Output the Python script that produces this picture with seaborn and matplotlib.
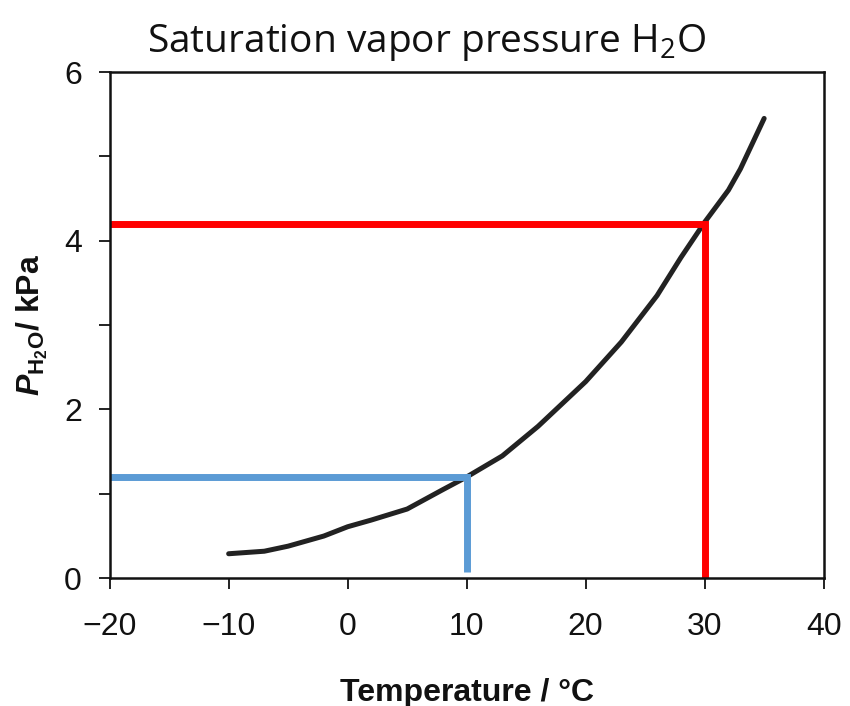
import matplotlib
matplotlib.use("Agg")
import matplotlib.pyplot as plt
import seaborn as sns
import pandas as pd
from matplotlib.ticker import MultipleLocator

# Data
temperature = [-10, -7, -5, -2, 0, 2, 5, 8, 10, 13, 16, 20, 23, 26, 28, 30, 32, 33, 35]
pressure = [0.29, 0.32, 0.38, 0.50, 0.61, 0.69, 0.82, 1.05, 1.20, 1.45, 1.80, 2.33,
            2.80, 3.35, 3.80, 4.22, 4.60, 4.85, 5.45]

red_x = [-20, 30, 30]
red_y = [4.2, 4.2, 0.0]
blue_x = [-20, 10, 10]
blue_y = [1.2, 1.2, 0.07]

x_ticks = [-20, -10, 0, 10, 20, 30, 40]
x_tick_labels = ["\u221220", "\u221210", "0", "10", "20", "30", "40"]
y_ticks = [0, 2, 4, 6]

sns.set_style("white")
plt.rcParams["font.family"] = ["Liberation Sans", "DejaVu Sans"]
plt.rcParams["mathtext.fontset"] = "custom"
plt.rcParams["mathtext.it"] = "Liberation Sans:bold:italic"
plt.rcParams["mathtext.rm"] = "Liberation Sans:bold"
plt.rcParams["mathtext.bf"] = "Liberation Sans:bold"

fig = plt.figure(figsize=(8.5, 7.06), dpi=100)
ax = fig.add_axes([0.129, 0.181, 0.840, 0.717])

df = pd.DataFrame({"T": temperature, "P": pressure})
sns.lineplot(data=df, x="T", y="P", ax=ax, color="#222222", linewidth=3.6)

ax.plot(red_x, red_y, color="#ff0000", linewidth=5, solid_capstyle="butt", solid_joinstyle="miter")
ax.plot(blue_x, blue_y, color="#5b9bd5", linewidth=5, solid_capstyle="butt", solid_joinstyle="miter")

ax.set_xlim(-20, 40)
ax.set_ylim(0, 6)
ax.set_xticks(x_ticks)
ax.set_xticklabels(x_tick_labels)
ax.set_yticks(y_ticks)
ax.yaxis.set_minor_locator(MultipleLocator(1))
ax.tick_params(axis="both", which="both", bottom=True, left=True, direction="out",
               length=8, width=1.3, colors="#111111", labelsize=23)
ax.tick_params(axis="x", which="major", pad=16)
ax.tick_params(axis="y", which="major", pad=12)

for s in ax.spines.values():
    s.set_visible(True)
    s.set_color("#111111")
    s.set_linewidth(1.8)

ax.set_xlabel("Temperature / \u00b0C", fontsize=23, fontweight="bold", labelpad=26, color="#111111")
ax.set_ylabel(r"$P_{\mathregular{H_2O}}$/ kPa", fontsize=23, fontweight="bold", labelpad=10,
              color="#111111")

fig.text(0.173, 0.940, r"Saturation vapor pressure H$\mathregular{_2}$O", fontsize=28,
         family=["Open Sans", "DejaVu Sans"], va="center", ha="left", color="#111111")

fig.savefig("out.png", dpi=100)
